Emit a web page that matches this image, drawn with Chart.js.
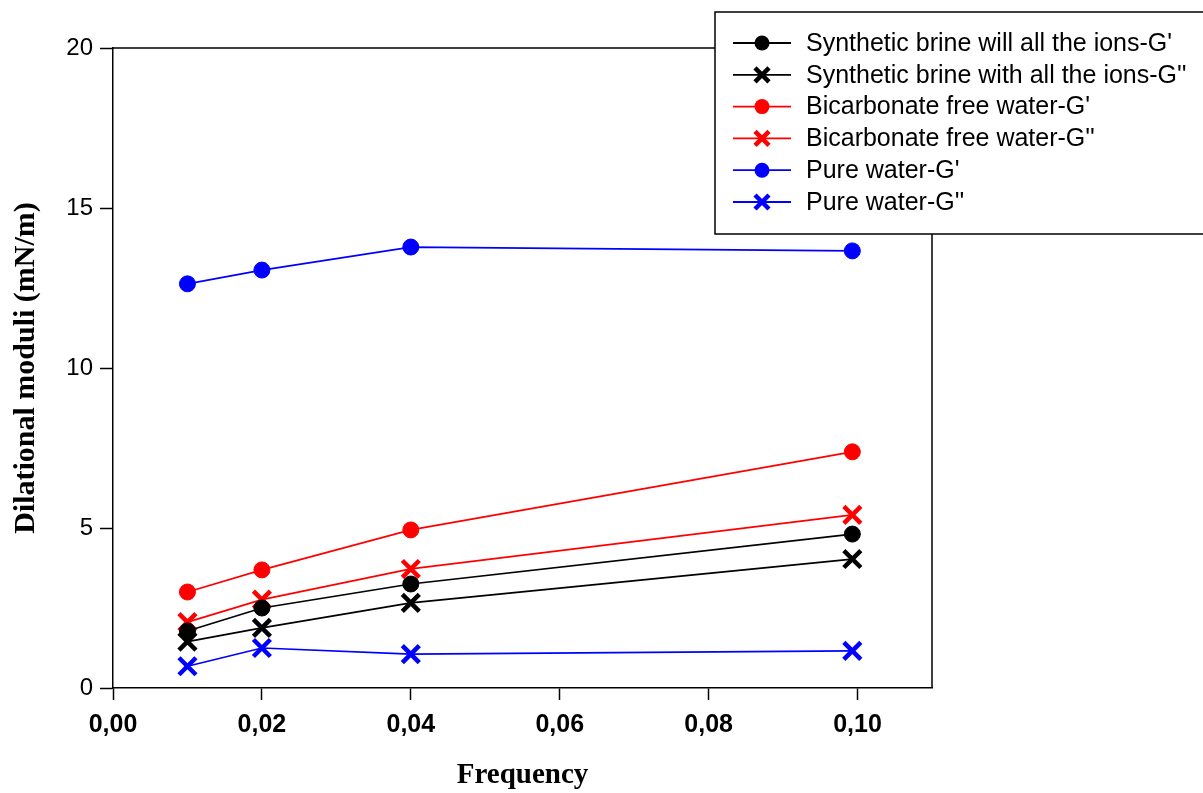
<!DOCTYPE html>
<html>
<head>
<meta charset="utf-8">
<script src="https://cdn.jsdelivr.net/npm/chart.js@4.4.1/dist/chart.umd.min.js"></script>
<style>
  html, body { margin: 0; padding: 0; background: #fff; }
  #wrap { width: 1203px; height: 793px; }
</style>
</head>
<body>
<div id="wrap"><canvas id="chart" width="1203" height="793"></canvas></div>
<script>
// Data
const frequency = [0.01, 0.02, 0.04, 0.0993];
const synthG1 = [1.78, 2.5, 3.25, 4.81];
const synthG2 = [1.45, 1.88, 2.66, 4.03];
const bicarbG1 = [3.0, 3.69, 4.94, 7.38];
const bicarbG2 = [2.06, 2.76, 3.72, 5.41];
const pureG1 = [12.63, 13.06, 13.78, 13.66];
const pureG2 = [0.68, 1.25, 1.06, 1.16];
const seriesNames = [
  "Synthetic brine will all the ions-G'",
  "Synthetic brine with all the ions-G''",
  "Bicarbonate free water-G'",
  "Bicarbonate free water-G''",
  "Pure water-G'",
  "Pure water-G''"
];
const xTicks = [0, 0.02, 0.04, 0.06, 0.08, 0.10];
const yTicks = [0, 5, 10, 15, 20];

const toPoints = (ys) => ys.map((y, i) => ({ x: frequency[i], y: y }));

const makeSet = (label, ys, color, style) => ({
  label: label,
  data: toPoints(ys),
  showLine: true,
  borderColor: color,
  backgroundColor: color,
  borderWidth: 1.7,
  pointStyle: style,
  pointRadius: style === 'circle' ? 8 : 12,
  pointBorderWidth: style === 'circle' ? 1 : 4.5,
  pointBorderColor: color,
  pointBackgroundColor: color
});

// draws the box round the plot and the legend in the upper right
const framePlugin = {
  id: 'frame',
  afterDraw(chart) {
    const ctx = chart.ctx;
    const a = chart.chartArea;
    ctx.save();
    ctx.strokeStyle = '#000';
    ctx.lineWidth = 1.5;
    ctx.beginPath();
    ctx.moveTo(a.left, a.top);
    ctx.lineTo(a.right, a.top);
    ctx.lineTo(a.right, a.bottom);
    ctx.stroke();

    // legend
    const bx = 715, by = 12, bw = 500, bh = 222;
    ctx.fillStyle = '#fff';
    ctx.fillRect(bx, by, bw, bh);
    ctx.lineWidth = 1.5;
    ctx.strokeRect(bx, by, bw, bh);
    ctx.font = '25px Arial, "Liberation Sans", sans-serif';
    ctx.textBaseline = 'middle';
    chart.data.datasets.forEach((ds, i) => {
      const y = 43 + i * 31.8;
      ctx.strokeStyle = ds.borderColor;
      ctx.fillStyle = ds.borderColor;
      ctx.lineWidth = 1.8;
      ctx.beginPath();
      ctx.moveTo(733, y);
      ctx.lineTo(791, y);
      ctx.stroke();
      ctx.beginPath();
      if (ds.pointStyle === 'circle') {
        ctx.arc(762, y, 7.5, 0, Math.PI * 2);
        ctx.fill();
      } else {
        ctx.lineWidth = 4.5;
        ctx.moveTo(755, y - 7); ctx.lineTo(769, y + 7);
        ctx.moveTo(769, y - 7); ctx.lineTo(755, y + 7);
        ctx.stroke();
      }
      ctx.fillStyle = '#000';
      ctx.fillText(ds.label, 806, y + 1);
    });
    ctx.restore();
  }
};

new Chart(document.getElementById('chart'), {
  type: 'scatter',
  data: {
    datasets: [
      makeSet(seriesNames[0], synthG1, '#000000', 'circle'),
      makeSet(seriesNames[1], synthG2, '#000000', 'crossRot'),
      makeSet(seriesNames[2], bicarbG1, '#ff0000', 'circle'),
      makeSet(seriesNames[3], bicarbG2, '#ff0000', 'crossRot'),
      makeSet(seriesNames[4], pureG1, '#0000ff', 'circle'),
      makeSet(seriesNames[5], pureG2, '#0000ff', 'crossRot')
    ]
  },
  options: {
    responsive: false,
    animation: false,
    layout: { padding: { left: 0, top: 48, right: 271, bottom: 0 } },
    plugins: {
      legend: { display: false },
      tooltip: { enabled: false }
    },
    scales: {
      x: {
        type: 'linear',
        min: 0,
        max: 0.11,
        afterFit: (s) => { s.height = 105; },
        afterBuildTicks: (s) => { s.ticks = xTicks.map(v => ({ value: v })); },
        border: { color: '#000', width: 1.5 },
        grid: { drawOnChartArea: false, color: '#000', tickLength: 12, tickWidth: 1.5 },
        ticks: {
          color: '#000',
          padding: 10,
          maxRotation: 0,
          font: { family: 'Arial, "Liberation Sans", sans-serif', size: 25, weight: 'bold' },
          callback: (v) => v.toFixed(2).replace('.', ',')
        },
        title: {
          display: true,
          text: 'Frequency',
          color: '#000',
          padding: { top: 0, bottom: 0 },
          font: { family: '"Times New Roman", "Liberation Serif", serif', size: 29, weight: 'bold' }
        }
      },
      y: {
        type: 'linear',
        min: 0,
        max: 20,
        afterFit: (s) => { s.width = 113; },
        afterBuildTicks: (s) => { s.ticks = yTicks.map(v => ({ value: v })); },
        border: { color: '#000', width: 1.5 },
        grid: { drawOnChartArea: false, color: '#000', tickLength: 13, tickWidth: 1.5 },
        ticks: {
          color: '#000',
          padding: 7,
          font: { family: 'Arial, "Liberation Sans", sans-serif', size: 24 }
        },
        title: {
          display: true,
          text: 'Dilational moduli (mN/m)',
          color: '#000',
          padding: { top: 8, bottom: 0 },
          font: { family: '"Times New Roman", "Liberation Serif", serif', size: 30, weight: 'bold' }
        }
      }
    }
  },
  plugins: [framePlugin]
});
</script>
</body>
</html>
